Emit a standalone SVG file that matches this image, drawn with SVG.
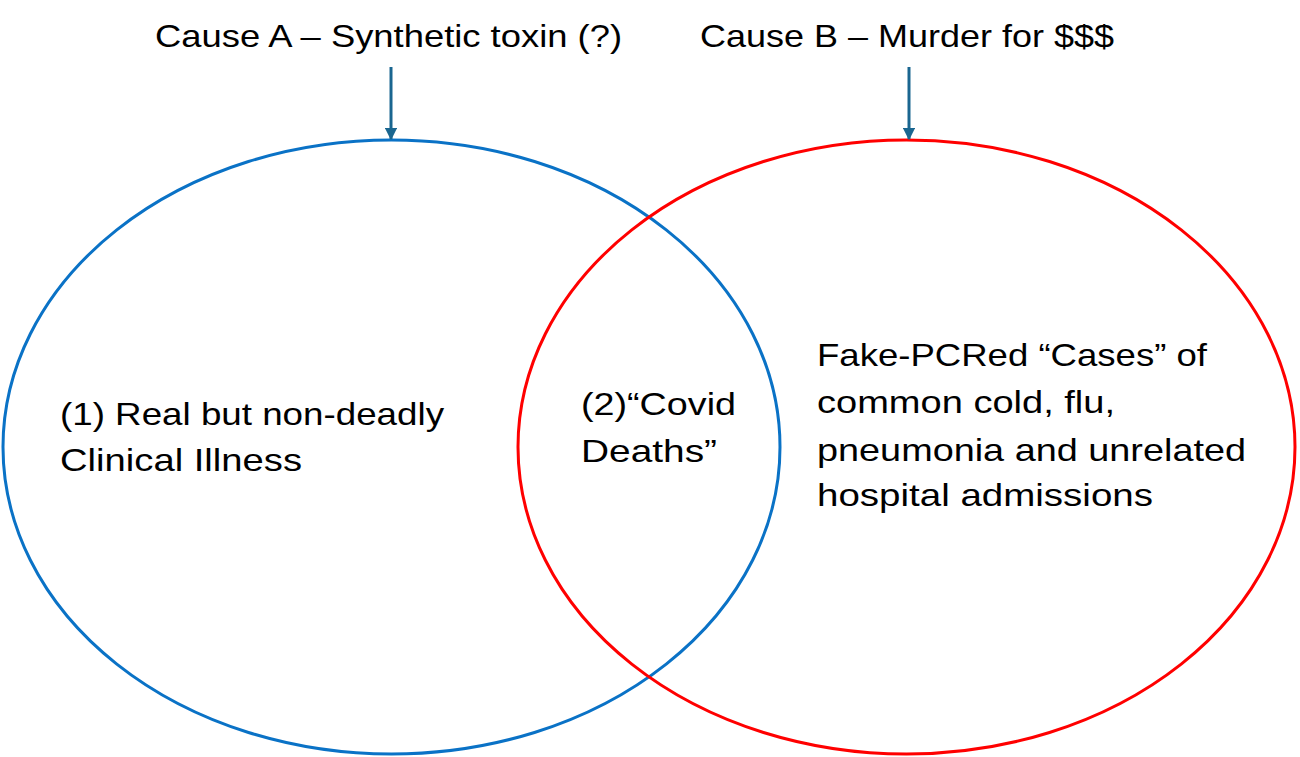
<svg xmlns="http://www.w3.org/2000/svg" width="1300" height="757" viewBox="0 0 1300 757">
<style>
text{font-family:"Liberation Sans",Arial,sans-serif;font-size:32px;fill:#000}
.ring{fill:none;stroke-width:3}
.arr{stroke:#1a6690;stroke-width:3;fill:none}
</style>
<defs>
<marker id="ah" viewBox="0 0 10 10" refX="9" refY="5" markerWidth="4.2" markerHeight="4.2" markerUnits="strokeWidth" orient="auto">
<path d="M0,0 L10,5 L0,10 Z" fill="#1a6690"/>
</marker>
</defs>
<rect width="1300" height="757" fill="#fff"/>
<g id="circleA"><ellipse class="ring" cx="391.5" cy="447" rx="388.5" ry="307" stroke="#0a72c6"/></g>
<g id="circleB"><ellipse class="ring" cx="906.5" cy="447" rx="388.5" ry="307" stroke="#ff0000"/></g>
<g id="causeA"><text x="155" y="47" textLength="467" lengthAdjust="spacingAndGlyphs">Cause A – Synthetic toxin (?)</text></g>
<g id="causeB"><text x="700" y="47" textLength="414" lengthAdjust="spacingAndGlyphs">Cause B – Murder for $$$</text></g>
<g id="region1"><text x="60" y="425" textLength="384" lengthAdjust="spacingAndGlyphs">(1) Real but non-deadly</text><text x="60" y="471" textLength="242" lengthAdjust="spacingAndGlyphs">Clinical Illness</text></g>
<g id="region2"><text x="581" y="415" textLength="155" lengthAdjust="spacingAndGlyphs">(2)“Covid</text><text x="581" y="462" textLength="136" lengthAdjust="spacingAndGlyphs">Deaths”</text></g>
<g id="region3"><text x="817" y="366" textLength="390" lengthAdjust="spacingAndGlyphs">Fake-PCRed “Cases” of</text><text x="817" y="413" textLength="298" lengthAdjust="spacingAndGlyphs">common cold, flu,</text><text x="817" y="461" textLength="429" lengthAdjust="spacingAndGlyphs">pneumonia and unrelated</text><text x="817" y="506" textLength="336" lengthAdjust="spacingAndGlyphs">hospital admissions</text></g>
<g id="connectors">
<line class="arr" x1="391" y1="67" x2="391" y2="139" marker-end="url(#ah)"/>
<line class="arr" x1="909" y1="67" x2="909" y2="139" marker-end="url(#ah)"/>
</g>
</svg>
